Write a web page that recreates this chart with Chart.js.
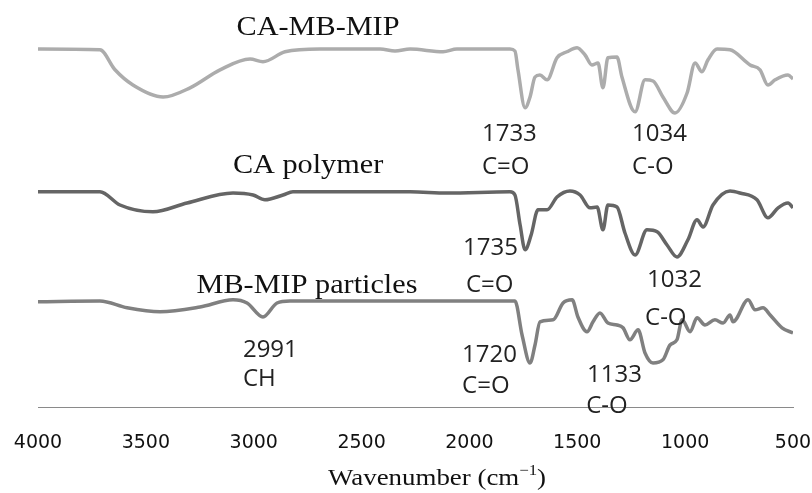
<!DOCTYPE html>
<html>
<head>
<meta charset="utf-8">
<script src="https://cdn.jsdelivr.net/npm/chart.js@4/dist/chart.umd.min.js"></script>
<style>
  html, body { margin: 0; padding: 0; background: #fff; }
  #wrap { width: 812px; height: 493px; }
</style>
</head>
<body>
<div id="wrap"><canvas id="chart" width="812" height="493"></canvas></div>
<script>
// tick labels on the wavenumber axis
const tickLabels = [4000, 3500, 3000, 2500, 2000, 1500, 1000, 500];

// CA-MB-MIP spectrum (wavenumber cm-1 / transmittance, offset a.u.)
const caMbMipWn = [4000, 3713, 3643, 3560, 3420, 3295, 3156, 3017, 2957, 2855, 2693, 2414, 2345, 2275, 2122, 2058,
  1812, 1789, 1775, 1742, 1719, 1696, 1673, 1640, 1594, 1548, 1501, 1464, 1432, 1404, 1381, 1358, 1316, 1293,
  1232, 1186, 1149, 1103, 1047, 991, 954, 922, 894, 852, 792, 699, 653, 616, 583, 523, 500];
const caMbMipT = [89.5, 89.3, 84.3, 80.5, 77.5, 79.8, 84.3, 87, 86.3, 88.8, 89.5, 89.5, 89, 89.5, 88.8, 89.5,
  89.5, 89, 84.3, 74.8, 77.5, 82.5, 83, 81.8, 87.3, 88.8, 89.8, 88, 85.5, 86, 79.8, 87.3, 87.5, 82.5,
  73.8, 81.8, 81.5, 77.5, 73.5, 78.5, 86, 83.8, 86.8, 89.5, 89.3, 85.5, 84.3, 80.5, 81.8, 83, 82];

// CA polymer spectrum
const caPolymerWn = [4000, 3713, 3620, 3467, 3309, 3096, 3003, 2948, 2864, 2818, 2275, 2104, 1812, 1789, 1765,
  1742, 1714, 1682, 1640, 1594, 1534, 1487, 1441, 1408, 1381, 1358, 1316, 1279, 1232, 1177, 1130, 1084, 1038,
  987, 945, 917, 871, 792, 746, 667, 616, 569, 523, 500];
const caPolymerT = [53.8, 53.8, 50.5, 48.8, 51, 53.5, 53, 51.8, 53, 53.8, 53.8, 53.5, 53.8, 53, 45.5,
  39.3, 43, 49.3, 49.3, 52.5, 54, 53, 49.8, 50, 44.3, 50.5, 50, 43.5, 38, 44.3, 43.8, 40.5, 37.5,
  41.8, 46.8, 45, 50.5, 54, 53.5, 51.8, 47.3, 49.8, 51, 49.8];

// MB-MIP particles spectrum
const mbMipWn = [4000, 3713, 3587, 3434, 3249, 3096, 3031, 2957, 2892, 2832, 2275, 1789, 1756, 1719, 1696, 1673,
  1612, 1566, 1524, 1497, 1455, 1427, 1395, 1358, 1316, 1288, 1256, 1218, 1186, 1149, 1103, 1070, 1038, 1014,
  977, 945, 908, 862, 824, 792, 778, 708, 676, 639, 606, 551, 500];
const mbMipT = [26.3, 26.5, 24.8, 23.8, 25, 26.8, 26, 22.5, 26, 26.5, 26.5, 26.5, 18, 11, 15.5, 21.3,
  21.8, 26, 26.8, 22.5, 18.8, 21.3, 23.5, 21, 20.5, 19.8, 16.8, 19.3, 13.5, 11, 11.8, 15.5, 16.8, 21.8,
  18.8, 22.3, 20.5, 21.8, 21, 23, 21.3, 26.8, 24.3, 24.8, 23, 19.8, 18.5];

// spectrum names and peak notes
const seriesNames = ['CA-MB-MIP', 'CA polymer', 'MB-MIP particles'];
const namePos = [[2702, 93], [2748, 58.5], [2753, 28.5]];
const peakNotes = [
  ['1733', 1942, 68.3], ['C=O', 1942, 60], ['1034', 1246, 68.3], ['C-O', 1246, 60],
  ['1735', 2030, 39.8], ['C=O', 2016, 30.5], ['1032', 1177, 31.8], ['C-O', 1186, 22.3],
  ['2991', 3050, 14.3], ['CH', 3050, 7], ['1720', 2034, 13], ['C=O', 2034, 5.3],
  ['1133', 1455, 8], ['C-O', 1459, 0.3]
];

const toPoints = (xs, ys) => xs.map((x, i) => ({ x: x, y: ys[i] }));

function stretchText(ctx, text, x, y, k) {
  ctx.save();
  ctx.translate(x, y);
  ctx.scale(k, 1);
  ctx.fillText(text, 0, 0);
  ctx.restore();
}

const labelsPlugin = {
  id: 'labels',
  afterDatasetsDraw(chart) {
    const ctx = chart.ctx;
    const xs = chart.scales.x, ys = chart.scales.y;
    ctx.save();
    // serif spectrum names
    ctx.fillStyle = '#111';
    ctx.font = '28px "Liberation Serif", "Times New Roman", serif';
    ctx.textAlign = 'center';
    ctx.textBaseline = 'alphabetic';
    seriesNames.forEach((name, i) => {
      stretchText(ctx, name, xs.getPixelForValue(namePos[i][0]), ys.getPixelForValue(namePos[i][1]), 1.08);
    });
    // peak notes
    ctx.fillStyle = '#222';
    ctx.font = '24px "Open Sans", sans-serif';
    ctx.textAlign = 'left';
    ctx.textBaseline = 'middle';
    peakNotes.forEach(n => {
      ctx.fillText(n[0], xs.getPixelForValue(n[1]), ys.getPixelForValue(n[2]));
    });
    // axis title with superscript
    const tx = xs.getPixelForValue(2150), ty = 485;
    const k = 1.12;
    const main = 'Wavenumber (cm';
    const sup = '\u22121';
    ctx.fillStyle = '#111';
    ctx.textBaseline = 'alphabetic';
    ctx.font = '24px "Liberation Serif", serif';
    const wMain = ctx.measureText(main).width;
    const wClose = ctx.measureText(')').width;
    ctx.font = '15px "Liberation Serif", serif';
    const wSup = ctx.measureText(sup).width;
    const total = (wMain + wSup + wClose) * k;
    let x0 = tx - total / 2;
    ctx.textAlign = 'left';
    ctx.font = '24px "Liberation Serif", serif';
    stretchText(ctx, main, x0, ty, k);
    x0 += wMain * k;
    ctx.font = '15px "Liberation Serif", serif';
    stretchText(ctx, sup, x0, ty - 10, k);
    x0 += wSup * k;
    ctx.font = '24px "Liberation Serif", serif';
    stretchText(ctx, ')', x0, ty, k);
    ctx.restore();
  }
};

const lineStyle = {
  borderWidth: 3.5,
  pointRadius: 0,
  fill: false,
  cubicInterpolationMode: 'monotone'
};

new Chart(document.getElementById('chart'), {
  type: 'line',
  data: {
    datasets: [
      Object.assign({ label: seriesNames[0], data: toPoints(caMbMipWn, caMbMipT), borderColor: '#acacac' }, lineStyle),
      Object.assign({ label: seriesNames[1], data: toPoints(caPolymerWn, caPolymerT), borderColor: '#656565' }, lineStyle),
      Object.assign({ label: seriesNames[2], data: toPoints(mbMipWn, mbMipT), borderColor: '#808080' }, lineStyle)
    ]
  },
  options: {
    responsive: false,
    animation: false,
    devicePixelRatio: 1,
    layout: { padding: { left: 38, right: 19, top: 7, bottom: 0 } },
    plugins: { legend: { display: false }, tooltip: { enabled: false } },
    scales: {
      x: {
        type: 'linear',
        reverse: true,
        min: 500,
        max: 4000,
        afterBuildTicks: (scale) => { scale.ticks = tickLabels.map(v => ({ value: v })); },
        afterFit: (scale) => {
          scale.height = 86;
          scale.paddingLeft = 0;
          scale.paddingRight = 0;
        },
        grid: { display: false, drawTicks: true, tickLength: 25 },
        border: { display: true, color: '#8a8a8a', width: 1 },
        ticks: {
          padding: 0,
          color: '#111',
          maxRotation: 0,
          autoSkip: false,
          callback: (v) => String(v),
          font: { family: '"DejaVu Sans", sans-serif', size: 19 }
        }
      },
      y: {
        display: false,
        min: 0,
        max: 100
      }
    }
  },
  plugins: [labelsPlugin]
});
</script>
</body>
</html>
